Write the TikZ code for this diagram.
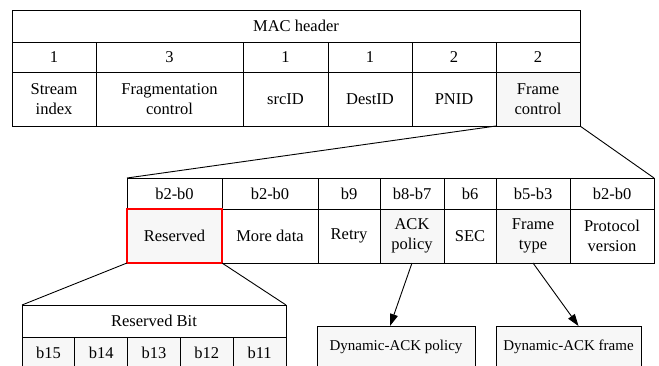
\documentclass[tikz,border=0pt]{standalone}
\usepackage{fontspec}
\setmainfont{Liberation Serif}
\usetikzlibrary{chains,positioning,arrows.meta,calc}
\definecolor{cellgray}{HTML}{F7F7F7}

\begin{document}
\begin{tikzpicture}[x=1pt,y=-1pt, node distance=0pt, line width=0.9pt,
    cell/.style={draw, inner sep=0pt, outer sep=0pt, align=center,
      font=\fontsize{16.5}{20}\selectfont},
    grey/.style={cell, fill=cellgray},
    >={Triangle[length=12pt,width=8pt]}]

  \clip (0,0) rectangle (659,365);

  % MAC header
  \node[cell,minimum width=568,minimum height=32,anchor=north west] (mac) at (12,10) {MAC header};

  \begin{scope}[start chain=len going right]
    \node[cell,on chain,minimum width=84,minimum height=30,below right=0pt of mac.south west] (len1) {1};
    \node[cell,on chain,minimum width=147,minimum height=30] (len2) {3};
    \node[cell,on chain,minimum width=85,minimum height=30] (len3) {1};
    \node[cell,on chain,minimum width=84,minimum height=30] (len4) {1};
    \node[cell,on chain,minimum width=84,minimum height=30] (len5) {2};
    \node[cell,on chain,minimum width=84,minimum height=30] (len6) {2};
  \end{scope}

  \begin{scope}[start chain=hdr going right]
    \node[cell,on chain,minimum width=84,minimum height=54,below right=0pt of len1.south west] (sidx) {Stream\\index};
    \node[cell,on chain,minimum width=147,minimum height=54] (frag) {Fragmentation\\control};
    \node[cell,on chain,minimum width=85,minimum height=54] (src) {srcID};
    \node[cell,on chain,minimum width=84,minimum height=54] (dst) {DestID};
    \node[cell,on chain,minimum width=84,minimum height=54] (pnid) {PNID};
    \node[grey,on chain,minimum width=84,minimum height=54] (fc) {Frame\\control};
  \end{scope}

  % frame control bits
  \begin{scope}[start chain=bits going right]
    \node[cell,on chain,minimum width=95,minimum height=31,anchor=north west] at (127,178) (bit1) {b2-b0};
    \node[cell,on chain,minimum width=96,minimum height=31] (bit2) {b2-b0};
    \node[cell,on chain,minimum width=62,minimum height=31] (bit3) {b9};
    \node[cell,on chain,minimum width=64,minimum height=31] (bit4) {b8-b7};
    \node[cell,on chain,minimum width=52,minimum height=31] (bit5) {b6};
    \node[cell,on chain,minimum width=74,minimum height=31] (bit6) {b5-b3};
    \node[cell,on chain,minimum width=84,minimum height=31] (bit7) {b2-b0};
  \end{scope}

  \begin{scope}[start chain=fcf going right]
    \node[grey,on chain,minimum width=95,minimum height=54,below right=0pt of bit1.south west] (rsv) {Reserved};
    \node[cell,on chain,minimum width=96,minimum height=54] (more) {More data};
    \node[cell,on chain,minimum width=62,minimum height=54] (retry) {Retry};
    \node[grey,on chain,minimum width=64,minimum height=54] (ack) {ACK\\policy};
    \node[cell,on chain,minimum width=52,minimum height=54] (sec) {SEC};
    \node[grey,on chain,minimum width=74,minimum height=54] (ftype) {Frame\\type};
    \node[cell,on chain,minimum width=84,minimum height=54] (pver) {Protocol\\version};
  \end{scope}
  \draw[red,line width=2pt] (rsv.north west) rectangle (rsv.south east);

  \draw (fc.south west) -- (bit1.north west);
  \draw (fc.south east) -- (bit7.north east);

  % reserved bits
  \node[cell,minimum width=264,minimum height=32,anchor=north west] (rbit) at (22,305) {Reserved Bit};
  \begin{scope}[start chain=rb going right]
    \node[grey,on chain,minimum width=52.8,minimum height=32,below right=0pt of rbit.south west] (b15) {b15};
    \node[grey,on chain,minimum width=52.8,minimum height=32] (b14) {b14};
    \node[grey,on chain,minimum width=52.8,minimum height=32] (b13) {b13};
    \node[grey,on chain,minimum width=52.8,minimum height=32] (b12) {b12};
    \node[grey,on chain,minimum width=52.8,minimum height=32] (b11) {b11};
  \end{scope}

  \draw (rsv.south west) -- (rbit.north west);
  \draw (rsv.south east) -- (rbit.north east);

  % dynamic ACK
  \node[grey,minimum width=158,minimum height=42,anchor=north west,font=\fontsize{15}{18}\selectfont] (dap) at (317,326) {Dynamic-ACK policy};
  \node[grey,minimum width=145,minimum height=42,anchor=north west,font=\fontsize{15}{18}\selectfont] (daf) at (496,326) {Dynamic-ACK frame};

  \draw[->] (ack.south) -- ($(dap.north)+(-6,0)$);
  \draw[->] (ftype.south) -- ($(daf.north)+(10,0)$);

\end{tikzpicture}
\end{document}
